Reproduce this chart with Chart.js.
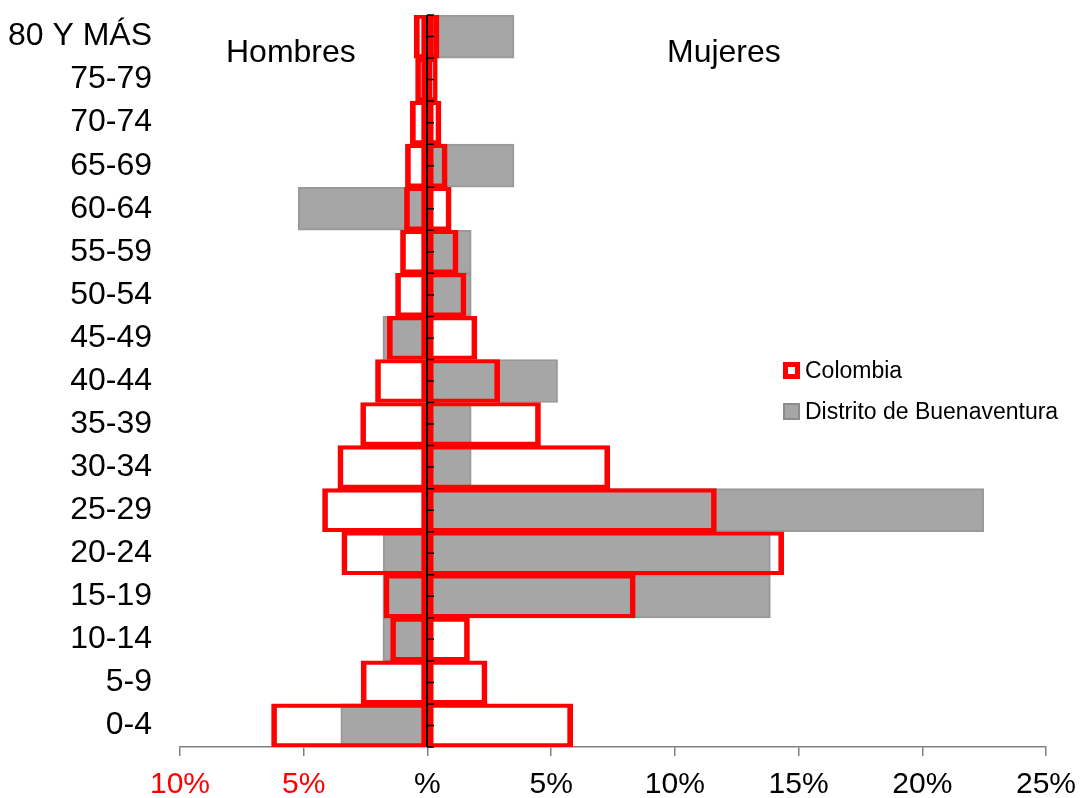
<!DOCTYPE html>
<html>
<head>
<meta charset="utf-8">
<script src="https://cdn.jsdelivr.net/npm/chart.js@4.4.0/dist/chart.umd.min.js"></script>
<style>
  html, body { margin: 0; padding: 0; background: #fff; }
  #contenedor { position: relative; width: 1080px; height: 798px; }
  canvas { display: block; }
  .titulo {
    position: absolute; top: 35px;
    font-family: "Liberation Sans", Arial, sans-serif; font-size: 32px; line-height: 1; color: #000;
  }
  #leyenda {
    position: absolute; left: 783px; top: 350px;
    font-family: "Liberation Sans", Arial, sans-serif; font-size: 23px; color: #000;
  }
  .item { display: flex; align-items: center; height: 41px; }
  .marca { width: 17px; height: 17px; box-sizing: border-box; margin-right: 5px; }
</style>
</head>
<body>
<div id="contenedor">
  <canvas id="piramide" width="1080" height="798"></canvas>
  <div class="titulo" style="left:226px">Hombres</div>
  <div class="titulo" style="left:667px">Mujeres</div>
  <div id="leyenda"></div>
</div>
<script>
// grupos de edad, de arriba hacia abajo
const grupos = ['80 Y MÁS', '75-79', '70-74', '65-69', '60-64', '55-59', '50-54', '45-49',
  '40-44', '35-39', '30-34', '25-29', '20-24', '15-19', '10-14', '5-9', '0-4'];

// porcentajes (hombres en positivo, se dibujan a la izquierda)
const colombiaHombres = [0.53, 0.48, 0.69, 0.89, 0.93, 1.09, 1.29, 1.62, 2.10, 2.70, 3.62, 4.24, 3.46, 1.76, 1.49, 2.68, 6.30];
const colombiaMujeres = [0.47, 0.40, 0.55, 0.80, 0.96, 1.24, 1.56, 2.00, 2.92, 4.57, 7.37, 11.68, 14.40, 8.40, 1.70, 2.41, 5.87];
const buenaventuraHombres = [0, 0, 0, 0, 5.22, 0, 0, 1.80, 0, 0, 0, 0, 1.79, 1.80, 1.80, 0, 3.50];
const buenaventuraMujeres = [3.50, 0, 0, 3.50, 0, 1.77, 1.77, 0, 5.26, 1.77, 1.77, 22.48, 13.86, 13.86, 0, 0, 0];

const etiquetasX = ['10%', '5%', '%', '5%', '10%', '15%', '20%', '25%'];

const ROJO = '#ff0000';
const GRIS = '#a6a6a6';

function serie(label, datos, signo, estilo) {
  return Object.assign({
    label,
    data: datos.map(v => (v === 0 ? null : signo * v)),
    grouped: false,
    barPercentage: 1,
    categoryPercentage: 1,
    borderSkipped: false
  }, estilo);
}

// Colombia va sin relleno, sólo el contorno rojo
const estiloColombia = {
  backgroundColor: 'rgba(0,0,0,0)',
  borderColor: ROJO,
  borderWidth: { top: 3.5, bottom: 3.5, left: 5, right: 5 }
};
const estiloBuenaventura = {
  backgroundColor: GRIS,
  borderColor: '#999999',
  borderWidth: 2
};

// línea negra del eje en 0 con marcas cada media categoría
const ejeCero = {
  id: 'ejeCero',
  afterDatasetsDraw(chart) {
    const { ctx, chartArea, scales: { x, y } } = chart;
    const x0 = Math.round(x.getPixelForValue(0));
    ctx.save();
    ctx.strokeStyle = '#000';
    ctx.lineWidth = 2;
    ctx.beginPath();
    ctx.moveTo(x0, chartArea.top);
    ctx.lineTo(x0, chartArea.bottom);
    ctx.stroke();
    const medio = (y.getPixelForValue(1) - y.getPixelForValue(0)) / 2;
    ctx.lineWidth = 1.5;
    ctx.beginPath();
    grupos.forEach((g, i) => {
      const yc = y.getPixelForValue(i);
      [yc - medio, yc, yc + medio].forEach(yy => {
        ctx.moveTo(x0, yy);
        ctx.lineTo(x0 + 7, yy);
      });
    });
    ctx.stroke();
    ctx.restore();
  }
};

const grafico = new Chart(document.getElementById('piramide'), {
  type: 'bar',
  data: {
    labels: grupos,
    // el orden importa: los primeros se pintan encima
    datasets: [
      serie('Colombia', colombiaHombres, -1, estiloColombia),
      serie('Colombia', colombiaMujeres, 1, estiloColombia),
      serie('Distrito de Buenaventura', buenaventuraHombres, -1, estiloBuenaventura),
      serie('Distrito de Buenaventura', buenaventuraMujeres, 1, estiloBuenaventura)
    ]
  },
  options: {
    indexAxis: 'y',
    responsive: false,
    animation: false,
    layout: { padding: { top: 15, right: 34, bottom: 0, left: 0 } },
    scales: {
      x: {
        min: -10,
        max: 25,
        afterFit: s => {
          s.height = 51;
          s.paddingLeft = 0;
          s.paddingRight = 0;
        },
        ticks: {
          stepSize: 5,
          padding: 11,
          maxRotation: 0,
          autoSkip: false,
          font: { family: '"Liberation Sans", Arial, sans-serif', size: 30 },
          color: c => (c.tick && c.tick.value < 0 ? ROJO : '#000'),
          callback: (v, i) => etiquetasX[i]
        },
        grid: {
          drawOnChartArea: false,
          drawTicks: true,
          tickLength: 9,
          color: '#808080',
          lineWidth: 1.5
        },
        border: { display: true, color: '#808080', width: 1.5 }
      },
      y: {
        afterFit: s => {
          s.width = 180;
          s.paddingTop = 0;
          s.paddingBottom = 0;
        },
        ticks: {
          padding: 20,
          autoSkip: false,
          font: { family: '"Liberation Sans", Arial, sans-serif', size: 32 },
          color: '#000'
        },
        grid: { display: false },
        border: { display: false }
      }
    },
    plugins: {
      legend: { display: false },
      tooltip: { enabled: false }
    }
  },
  plugins: [ejeCero]
});

// leyenda: una entrada por serie
const leyenda = document.getElementById('leyenda');
[
  { texto: 'Colombia', fondo: '#ffffff', borde: ROJO, ancho: 5 },
  { texto: 'Distrito de Buenaventura', fondo: GRIS, borde: '#8c8c8c', ancho: 2 }
].forEach(e => {
  const item = document.createElement('div');
  item.className = 'item';
  item.innerHTML = `<span class="marca" style="background:${e.fondo};border:${e.ancho}px solid ${e.borde}"></span><span>${e.texto}</span>`;
  leyenda.appendChild(item);
});
</script>
</body>
</html>
